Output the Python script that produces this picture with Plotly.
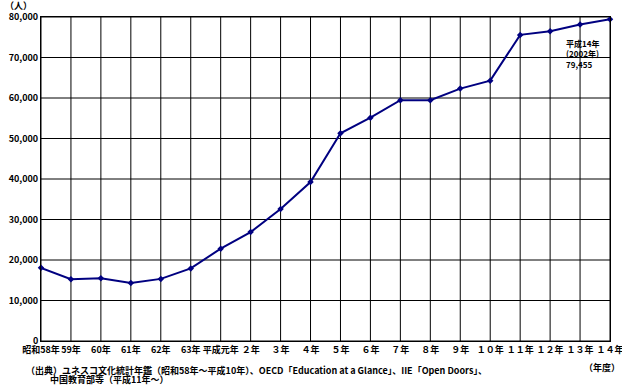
import plotly.graph_objects as go

categories = ["昭和58年", "59年", "60年", "61年", "62年", "63年", "平成元年",
              "２年", "３年", "４年", "５年", "６年", "７年", "８年", "９年",
              "１０年", "１１年", "１２年", "１３年", "１４年"]
students = [18066, 15246, 15485, 14297, 15335, 17926, 22798, 26893, 32609, 39258,
            51295, 55145, 59468, 59460, 62324, 64284, 75586, 76464, 78151, 79455]
y_ticks = [0, 10000, 20000, 30000, 40000, 50000, 60000, 70000, 80000]

FONT = "Noto Sans CJK JP"
xs = list(range(len(categories)))
tf = dict(family=FONT, size=9, color="black", weight="bold")

fig = go.Figure()
fig.add_trace(go.Scatter(
    x=xs, y=students, mode="lines+markers",
    line=dict(color="#000080", width=2),
    marker=dict(symbol="diamond", size=5, color="#000080"),
    showlegend=False, hoverinfo="skip", cliponaxis=False,
))

# grid lines drawn from the category / tick arrays
for xv in xs:
    fig.add_shape(type="line", xref="x", yref="paper", x0=xv, x1=xv, y0=0, y1=1,
                  line=dict(color="black", width=1), layer="below")
for yv in y_ticks:
    fig.add_shape(type="line", xref="paper", yref="y", x0=0, x1=1, y0=yv, y1=yv,
                  line=dict(color="black", width=1), layer="below")

fig.update_layout(
    template="none",
    width=622, height=388,
    margin=dict(l=41, r=12, t=17, b=47, autoexpand=False),
    paper_bgcolor="white", plot_bgcolor="white",
    font=dict(family=FONT, size=9, color="black", weight="bold"),
    xaxis=dict(
        range=[0, len(categories) - 1], tickmode="array",
        tickvals=xs, ticktext=categories, automargin=False,
        ticklabeloverflow="allow",
        showgrid=False, showline=True, linecolor="black", linewidth=1, mirror=True,
        ticks="", tickangle=0, zeroline=False, tickfont=tf,
    ),
    yaxis=dict(
        range=[0, 80000], tickmode="array", tickvals=y_ticks, automargin=False,
        ticklabeloverflow="allow",
        tickformat=",", showgrid=False,
        showline=True, linecolor="black", linewidth=1, mirror=True,
        ticks="", zeroline=False, tickfont=tf,
    ),
    annotations=[
        dict(text="（人）", xref="paper", yref="paper", x=-0.066, y=1.0, yshift=3,
             xanchor="left", yanchor="bottom", showarrow=False, font=tf),
        dict(text="（年度）", xref="paper", yref="paper", x=1.021, y=-0.055,
             xanchor="right", yanchor="top", showarrow=False, font=tf),
        dict(text="平成14年<br>(2002年)<br>79,455", xref="x", yref="y",
             x=len(categories) - 1, y=students[-1], xanchor="right", yanchor="top",
             xshift=-9, yshift=-17, align="left", showarrow=False,
             font=dict(family=FONT, size=8, color="black", weight="bold")),
        dict(text="（出典）ユネスコ文化統計年鑑（昭和58年～平成10年）、OECD「Education at a Glance」、IIE「Open Doors」、",
             xref="paper", yref="paper", x=-0.03, y=-0.118,
             xanchor="left", yanchor="bottom", showarrow=False, font=tf),
        dict(text="中国教育部等（平成11年～）",
             xref="paper", yref="paper", x=0.012, y=-0.1455,
             xanchor="left", yanchor="bottom", showarrow=False, font=tf),
    ],
)

fig.write_html("out.html", config={"displayModeBar": False},
               post_script="document.body.style.margin='0';")
